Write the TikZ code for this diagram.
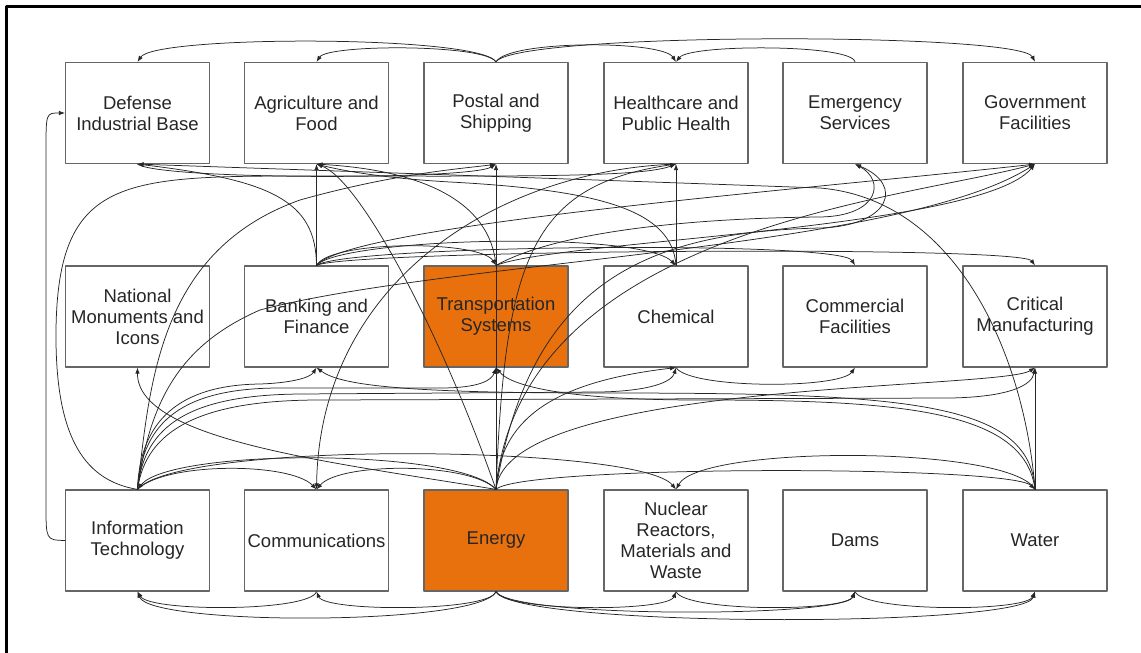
\documentclass[tikz,border=0pt]{standalone}
\usepackage{fontspec}
\setmainfont{Liberation Sans}
\usetikzlibrary{arrows.meta}

\definecolor{sectororange}{RGB}{232,113,14}

\tikzset{
  sector/.style={draw=black!60, line width=1.2pt, fill=white,
    minimum width=144pt, minimum height=101pt, inner sep=0pt,
    align=center, text=black!85, font=\fontsize{18.5}{21}\selectfont},
  hot/.style={sector, fill=sectororange},
  link/.style={-{Latex[length=6pt,width=4.5pt]}, line width=0.75pt, draw=black!85},
}

\begin{document}
\begin{tikzpicture}[x=1pt,y=-1pt,line cap=round,line join=round]
  \useasboundingbox (0,0) rectangle (1141,653);
  \draw[line width=3pt] (6,700) -- (6,6.5) -- (1200,6.5);

  % row 1
  \node[sector] (def) at (137.5,113) {Defense\\Industrial Base};
  \node[sector] (agr) at (316.5,113) {Agriculture and\\Food};
  \node[sector] (pos) at (496,113) {Postal and\\Shipping};
  \node[sector] (hea) at (676,113) {Healthcare and\\Public Health};
  \node[sector] (eme) at (855,113) {Emergency\\Services};
  \node[sector] (gov) at (1035,113) {Government\\Facilities};
  % row 2
  \node[sector] (nat) at (137.5,316.5) {National\\Monuments and\\Icons};
  \node[sector] (ban) at (316.5,316.5) {Banking and\\Finance};
  \node[hot] (tra) at (496,316.5) {Transportation\\Systems};
  \node[sector] (che) at (676,316.5) {Chemical};
  \node[sector] (com) at (855,316.5) {Commercial\\Facilities};
  \node[sector] (cri) at (1035,316.5) {Critical\\Manufacturing};
  % row 3
  \node[sector] (inf) at (137.5,540.5) {Information\\Technology};
  \node[sector] (cmm) at (316.5,540.5) {Communications};
  \node[hot] (ene) at (496,540.5) {Energy};
  \node[sector] (nuc) at (676,540.5) {Nuclear\\Reactors,\\Materials and\\Waste};
  \node[sector] (dam) at (855,540.5) {Dams};
  \node[sector] (wat) at (1035,540.5) {Water};

  % over the top row
  \draw[link] (pos.north) .. controls (480,35) and (155,35) .. (def.north);
  \draw[link] (pos.north) .. controls (485,44) and (328,44) .. (agr.north);
  \draw[link] (pos.north) .. controls (508,40) and (662,40) .. (hea.north);
  \draw[link] (pos.north) .. controls (515,32) and (1020,32) .. (gov.north);
  \draw[link] (eme.north) .. controls (852,44) and (690,44) .. (hea.north);
  \draw[link] (inf.west) .. controls (46,540) .. (46,505) -- (46,150)
        .. controls (46,113) .. (def.west);

  % under the bottom row
  \draw[link] (cmm.south) .. controls (310,612) and (150,612) .. (inf.south);
  \draw[link] (ene.south) .. controls (490,612) and (325,612) .. (cmm.south);
  \draw[link] (ene.south) .. controls (480,626) and (150,626) .. (inf.south);
  \draw[link] (ene.south) .. controls (505,612) and (668,612) .. (nuc.south);
  \draw[link] (nuc.south) .. controls (685,612) and (846,612) .. (dam.south);
  \draw[link] (dam.south) .. controls (864,612) and (1026,612) .. (wat.south);
  \draw[link] (ene.south) .. controls (510,618) and (845,618) .. (dam.south);
  \draw[link] (ene.south) .. controls (515,628) and (1025,628) .. (wat.south);

  % between rows 2 and 3
  \draw[link] (ene.north) -- (tra.south);
  \draw[link] (ene.north) -- (pos.south);
  \draw[link] (ene.north) .. controls (440,330) and (360,180) .. (agr.south);
  \draw[link] (ene.north) .. controls (330,462) and (137,440) .. (nat.south);
  \draw[link] (ene.north) .. controls (470,462) and (340,462) .. (cmm.north);
  \draw[link] (inf.north) .. controls (165,462) and (290,462) .. (cmm.north);
  \draw[link] (ene.north) .. controls (460,448) and (170,448) .. (inf.north);
  \draw[link] (inf.north) .. controls (180,440) and (640,445) .. (nuc.north);
  \draw[link] (wat.north) .. controls (1010,445) and (700,445) .. (nuc.north);
  \draw[link] (ene.north) .. controls (520,465) and (1010,465) .. (wat.north);
  \draw[link] (inf.north) .. controls (140,420) and (180,385) .. (260,384)
        .. controls (290,383) and (310,378) .. (ban.south);
  \draw[link] (inf.north) .. controls (142,420) and (185,388) .. (280,388)
        -- (440,388) .. controls (480,388) and (492,380) .. (tra.south);
  \draw[link] (inf.north) .. controls (144,425) and (190,395) .. (300,394)
        -- (600,392) .. controls (650,391) and (672,382) .. (che.south);
  \draw[link] (inf.north) .. controls (146,430) and (200,400) .. (320,400)
        -- (950,398) .. controls (1010,397) and (1032,385) .. (cri.south);
  \draw[link] (wat.north) -- (cri.south);
  \draw[link] (wat.north) .. controls (1030,400) and (900,393) .. (600,393)
        .. controls (400,393) and (340,385) .. (ban.south);
  \draw[link] (wat.north) .. controls (1025,410) and (900,400) .. (700,400)
        .. controls (560,400) and (510,385) .. (tra.south);
  \draw[link] (ene.north) .. controls (500,410) and (570,380) .. (che.south);
  \draw[link] (ene.north) .. controls (505,380) and (1000,390) .. (cri.south);
  \draw[link] (che.south) .. controls (690,389) and (840,389) .. (com.south);

  % up to the top row
  \draw[link] (inf.north) .. controls (150,400) and (180,345) .. (260,310)
        .. controls (450,260) and (900,250) .. (gov.south);
  \draw[link] (inf.north) .. controls (150,380) and (160,250) .. (300,200)
        .. controls (400,172) and (470,168) .. (pos.south);
  \draw[link] (inf.north) .. controls (80,480) and (55,430) .. (56,330)
        .. controls (58,180) and (120,176) .. (300,176)
        .. controls (500,176) and (640,178) .. (hea.south);
  \draw[link] (wat.north) .. controls (1025,360) and (960,200) .. (820,188)
        .. controls (600,180) and (250,168) .. (def.south);
  \draw[link] (ene.north) .. controls (505,260) and (530,185) .. (hea.south);
  \draw[link] (ene.north) .. controls (520,230) and (900,200) .. (gov.south);
  \draw[link] (ene.north) .. controls (530,280) and (650,232) .. (820,228)
        .. controls (890,226) and (905,185) .. (eme.south);
  \draw[link] (tra.north) .. controls (560,230) and (700,218) .. (820,217)
        .. controls (880,216) and (885,180) .. (eme.south);

  % between rows 1 and 2
  \draw[link] (ban.north) -- (agr.south);
  \draw[link] (ban.north) .. controls (316,200) and (270,180) .. (def.south);
  \draw[link] (ban.north) .. controls (330,240) and (480,240) .. (tra.north);
  \draw[link] (ban.north) .. controls (340,238) and (640,230) .. (che.north);
  \draw[link] (ban.north) .. controls (345,245) and (840,240) .. (com.north);
  \draw[link] (ban.north) .. controls (345,250) and (1020,245) .. (cri.north);
  \draw[link] (ban.north) .. controls (350,225) and (800,190) .. (gov.south);
  \draw[link] (tra.north) .. controls (490,200) and (420,170) .. (agr.south);
  \draw[link] (tra.north) .. controls (560,240) and (980,230) .. (gov.south);
  \draw[link] (che.north) .. controls (672,210) and (600,190) .. (450,182)
        .. controls (380,178) and (340,170) .. (agr.south);
  \draw[link] (def.south) .. controls (160,180) and (470,180) .. (pos.south);
  \draw[link] (che.north) -- (hea.south);
  \draw[link] (hea.south) .. controls (500,170) and (320,280) .. (cmm.north);
\end{tikzpicture}
\end{document}
